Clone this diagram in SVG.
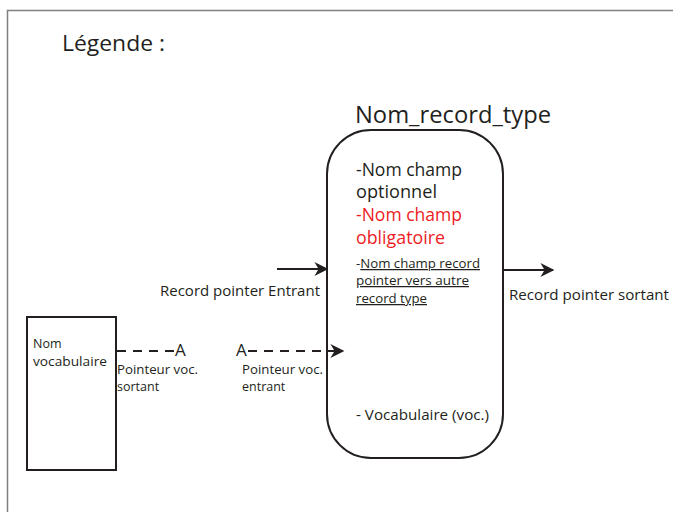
<svg xmlns="http://www.w3.org/2000/svg" width="673" height="512" viewBox="0 0 673 512">
<style>
text{font-family:"Open Sans","Liberation Sans",sans-serif;fill:#231f20}
.node{fill:#fff;stroke:#231f20;stroke-width:2}
.conn{stroke:#231f20;stroke-width:2;fill:none}
.dash{stroke-dasharray:9,7}
.red{fill:#ed1c24}
.f1{font-size:17.5px}
.s{font-size:12.5px}
.m{font-size:14.5px}
</style>
<defs>
<marker id="ah" viewBox="0 0 10 10" refX="9" refY="5" markerWidth="16" markerHeight="14" markerUnits="userSpaceOnUse" orient="auto">
<path d="M0,0 L10,5 L0,10 L3,5 Z" fill="#231f20"/>
</marker>
</defs>
<rect width="673" height="512" fill="#fff"/>
<path d="M7.5,520 V10.5 H680" fill="none" stroke="#808080" stroke-width="1.5"/>
<text x="62" y="51" font-size="22" textLength="103" lengthAdjust="spacingAndGlyphs">Légende :</text>
<g id="record_type">
<rect class="node" x="327" y="130" width="176" height="328" rx="44" ry="44"/>
<text x="355" y="123" font-size="23.5" textLength="196" lengthAdjust="spacingAndGlyphs">Nom_record_type</text>
<text x="356" y="176" class="f1" textLength="106" lengthAdjust="spacingAndGlyphs">-Nom champ</text>
<text x="356" y="198" class="f1" textLength="81" lengthAdjust="spacingAndGlyphs">optionnel</text>
<text x="356" y="221" class="f1 red" textLength="106" lengthAdjust="spacingAndGlyphs">-Nom champ</text>
<text x="356" y="244" class="f1 red" textLength="89" lengthAdjust="spacingAndGlyphs">obligatoire</text>
<text x="356" y="268" font-size="12.5" textLength="124" lengthAdjust="spacingAndGlyphs">-<tspan text-decoration="underline">Nom champ record </tspan></text>
<text x="356" y="285" font-size="12.5" text-decoration="underline" textLength="113" lengthAdjust="spacingAndGlyphs">pointer vers autre </text>
<text x="356" y="303" font-size="12.5" text-decoration="underline" textLength="71" lengthAdjust="spacingAndGlyphs">record type</text>
<text x="356" y="420" font-size="15" textLength="133" lengthAdjust="spacingAndGlyphs">- Vocabulaire (voc.)</text>
</g>
<g id="vocabulaire">
<rect class="node" x="27" y="317" width="89" height="153"/>
<text x="33" y="348" class="s">Nom</text>
<text x="33" y="366" class="s" textLength="74" lengthAdjust="spacingAndGlyphs">vocabulaire</text>
</g>
<g id="connectors">
<line class="conn" x1="277" y1="269" x2="327" y2="269" marker-end="url(#ah)"/>
<line class="conn" x1="503" y1="270" x2="553" y2="270" marker-end="url(#ah)"/>
<line class="conn dash" x1="117" y1="351" x2="175" y2="351"/>
<line class="conn dash" x1="248" y1="351" x2="343" y2="351" marker-end="url(#ah)"/>
<text x="160" y="296" class="m" textLength="160" lengthAdjust="spacingAndGlyphs">Record pointer Entrant</text>
<text x="509" y="300" class="m" textLength="160" lengthAdjust="spacingAndGlyphs">Record pointer sortant</text>
<text x="175" y="356" font-size="17">A</text>
<text x="236" y="356" font-size="17">A</text>
<text x="117" y="374" class="s" textLength="81" lengthAdjust="spacingAndGlyphs">Pointeur voc.</text>
<text x="117" y="391" class="s">sortant</text>
<text x="242" y="374" class="s" textLength="81" lengthAdjust="spacingAndGlyphs">Pointeur voc.</text>
<text x="242" y="391" class="s">entrant</text>
</g>
</svg>
